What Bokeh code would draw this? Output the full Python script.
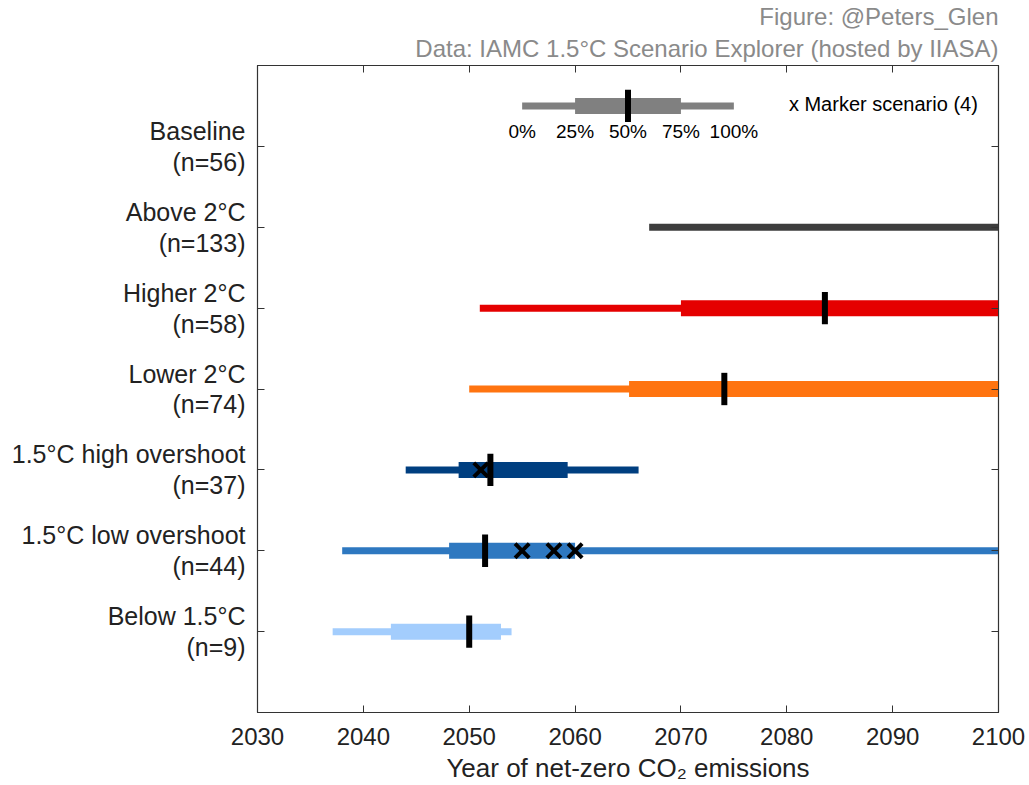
import numpy as np
from bokeh.plotting import figure
from bokeh.models import ColumnDataSource, Range1d, LinearAxis, FixedTicker, Title
from bokeh.core.properties import value
from bokeh.embed import file_html
from bokeh.resources import INLINE

# ---- data ----
names = ["Below 1.5°C", "1.5°C low overshoot", "1.5°C high overshoot",
         "Lower 2°C", "Higher 2°C", "Above 2°C", "Baseline"]
counts = [9, 44, 37, 74, 58, 133, 56]
p0 = [2037.1, 2038.0, 2044.0, 2050.0, 2051.0, 2067.0, np.nan]
p25 = [2042.6, 2048.1, 2049.0, 2065.1, 2070.0, np.nan, np.nan]
p50 = [2050.0, 2051.5, 2052.0, 2074.1, 2083.6, np.nan, np.nan]
p75 = [2053.0, 2060.0, 2059.3, 2100.0, 2100.0, np.nan, np.nan]
p100 = [2054.0, 2100.0, 2066.0, 2100.0, 2100.0, 2100.0, np.nan]
colors = ["#a3cdfd", "#2e78c0", "#003f80", "#ff7410", "#e50000", "#3d3d3d", "#808080"]

marker_cat = [2, 2, 2, 3]          # 1-based category index
marker_year = [2055.0, 2058.0, 2060.0, 2051.1]

legend_pcts = ["0%", "25%", "50%", "75%", "100%"]
legend_years = [2055, 2060, 2065, 2070, 2075]
legend_text = "x Marker scenario (4)"
x_ticks = [2030, 2040, 2050, 2060, 2070, 2080, 2090, 2100]
xlabel = "Year of net-zero CO₂ emissions"
credit1 = "Figure: @Peters_Glen"
credit2 = "Data: IAMC 1.5°C Scenario Explorer (hosted by IIASA)"

FONT = "Liberation Sans"
ypos = list(range(1, len(names) + 1))

p = figure(width=1029, height=785, output_backend="svg", toolbar_location=None,
           x_range=Range1d(2030, 2100), y_range=Range1d(0, 8),
           min_border_left=257, min_border_right=31, min_border_top=20,
           min_border_bottom=71)
p.background_fill_color = "white"
p.border_fill_color = "white"
p.grid.visible = False
p.outline_line_color = "#333333"
p.outline_line_width = 1.2

src = ColumnDataSource(dict(y=ypos, p0=p0, p25=p25, p50=p50, p75=p75, p100=p100, c=colors))
p.segment(x0="p0", y0="y", x1="p100", y1="y", line_width=7, line_color="c",
          line_cap="butt", source=src)
p.segment(x0="p25", y0="y", x1="p75", y1="y", line_width=16, line_color="c",
          line_cap="butt", source=src)
ylo = [y - 0.2 for y in ypos]
yhi = [y + 0.2 for y in ypos]
src_med = ColumnDataSource(dict(x=p50, y0=ylo, y1=yhi))
p.segment(x0="x", y0="y0", x1="x", y1="y1", line_width=6, line_color="black",
          line_cap="butt", source=src_med)
p.scatter(x=marker_year, y=marker_cat, marker="x", size=20, line_width=4,
          line_color="black")

# legend inside the plot
ly = 7.5
p.segment(x0=[legend_years[0]], y0=[ly], x1=[legend_years[4]], y1=[ly],
          line_width=7, line_color="#808080", line_cap="butt")
p.segment(x0=[legend_years[1]], y0=[ly], x1=[legend_years[3]], y1=[ly],
          line_width=16, line_color="#808080", line_cap="butt")
p.segment(x0=[legend_years[2]], y0=[ly - 0.2], x1=[legend_years[2]], y1=[ly + 0.2],
          line_width=6, line_color="black", line_cap="butt")
p.text(x=legend_years, y=[7.19] * 5, text=legend_pcts, text_font=value(FONT),
       text_font_size="19px", text_align="center", text_baseline="middle",
       text_color="black")
p.text(x=[2080.2], y=[ly + 0.02], text=[legend_text], text_font=value(FONT),
       text_font_size="20px", text_align="left", text_baseline="middle",
       text_color="black")

# axes
xa = p.xaxis[0]
xa.ticker = FixedTicker(ticks=x_ticks)
xa.axis_label = xlabel
ya = p.yaxis[0]
ya.ticker = FixedTicker(ticks=ypos)
ya.major_label_overrides = {y: f"{n}\n(n={c})" for y, n, c in zip(ypos, names, counts)}

for ax in (xa, ya):
    ax.major_tick_in = 7
    ax.major_tick_out = 0
    ax.minor_tick_in = 0
    ax.minor_tick_out = 0
    ax.axis_line_color = "#333333"
    ax.major_tick_line_color = "#333333"
    ax.major_label_text_font = FONT
    ax.major_label_text_font_size = "24px"
    ax.major_label_text_color = "#222222"
ya.major_label_text_font_size = "25px"
ya.major_label_text_line_height = 1.1
ya.major_label_standoff = 12
xa.major_label_standoff = 15
xa.axis_label_text_font = FONT
xa.axis_label_text_font_size = "26px"
xa.axis_label_text_font_style = "normal"
xa.axis_label_text_color = "#222222"
xa.axis_label_standoff = 5

top = LinearAxis(ticker=FixedTicker(ticks=x_ticks),
                 major_label_overrides={t: "" for t in x_ticks},
                 major_tick_in=7, major_tick_out=0, minor_tick_in=0, minor_tick_out=0,
                 axis_line_color="#333333", major_tick_line_color="#333333",
                 major_label_standoff=0)
p.add_layout(top, "above")
right = LinearAxis(ticker=FixedTicker(ticks=ypos),
                   major_label_overrides={t: "" for t in ypos},
                   major_tick_in=7, major_tick_out=0, minor_tick_in=0, minor_tick_out=0,
                   axis_line_color="#333333", major_tick_line_color="#333333",
                   major_label_standoff=0)
p.add_layout(right, "right")

p.add_layout(Title(text=credit2, align="right", text_font=FONT, text_font_size="24px",
                   text_font_style="normal", text_color="#8a8a8a",
                   standoff=7, offset=0), "above")
p.add_layout(Title(text=credit1, align="right", text_font=FONT, text_font_size="24px",
                   text_font_style="normal", text_color="#8a8a8a",
                   standoff=0, offset=0), "above")

open("out.html", "w").write(file_html(p, INLINE))
